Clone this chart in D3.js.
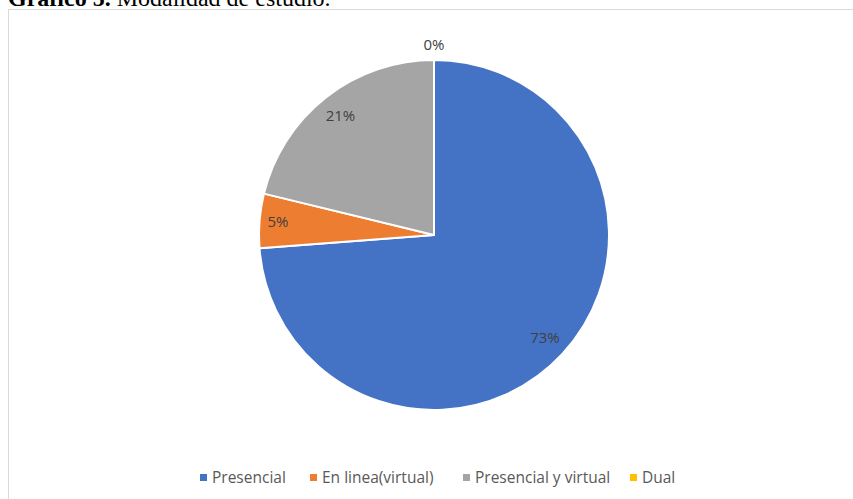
<!DOCTYPE html>
<html>
<head>
<meta charset="utf-8">
<script src="https://cdn.jsdelivr.net/npm/d3@7/dist/d3.min.js"></script>
<style>
html,body{margin:0;padding:0;background:#fff;overflow:hidden;}
svg{display:block;}
</style>
</head>
<body>
<svg id="chart" width="853" height="499"></svg>
<script>
const categories = ["Presencial", "En linea(virtual)", "Presencial y virtual", "Dual"];
const values = [73.8, 5.0, 21.2, 0];
const colors = ["#4472C4", "#ED7D31", "#A5A5A5", "#FFC000"];
const titleBold = "Gráfico 5.";
const titleRest = " Modalidad de estudio.";

const svg = d3.select("#chart");

// title (cut at top, as in the reference)
const title = svg.append("text")
  .attr("x", 8).attr("y", 6)
  .attr("font-family", "'Liberation Serif', 'Times New Roman', serif")
  .attr("font-size", 24).attr("fill", "#000");
title.append("tspan").attr("font-weight", "bold").text(titleBold);
title.append("tspan").text(titleRest);

// chart frame
svg.append("rect")
  .attr("x", 8.5).attr("y", 9.5)
  .attr("width", 900).attr("height", 600)
  .attr("fill", "#fff").attr("stroke", "#d9d9d9").attr("stroke-width", 1);

const cx = 434, cy = 235, r = 175;
const g = svg.append("g").attr("transform", `translate(${cx},${cy})`);

const pie = d3.pie().sort(null).value(d => d);
const arcs = pie(values);
const arc = d3.arc().innerRadius(0).outerRadius(r);

g.selectAll("path.slice").data(arcs).enter().append("path")
  .attr("class", "slice")
  .attr("d", arc)
  .attr("fill", (d, i) => colors[i])
  .attr("stroke", "#fff").attr("stroke-width", 2).attr("stroke-linejoin", "round");

const total = d3.sum(values);
g.selectAll("text.lbl").data(arcs).enter().append("text")
  .attr("class", "lbl")
  .attr("transform", d => {
    const a = (d.startAngle + d.endAngle) / 2;
    const frac = d.value / total;
    const rr = frac === 0 ? r + 15 : (frac < 0.1 ? r * 0.895 : r * 0.865);
    return `translate(${Math.sin(a) * rr},${-Math.cos(a) * rr})`;
  })
  .attr("text-anchor", "middle").attr("dy", "0.35em")
  .attr("font-family", "'Open Sans', sans-serif")
  .attr("font-size", 15).attr("fill", "#404040")
  .text(d => Math.floor(d.value / total * 100 + 1e-9) + "%");

// legend
const legendX = [200, 310, 463, 630];
const lg = svg.append("g");
categories.forEach((c, i) => {
  const item = lg.append("g").attr("transform", `translate(${legendX[i]},478)`);
  item.append("rect").attr("x", 0).attr("y", -4).attr("width", 7).attr("height", 7).attr("fill", colors[i]);
  item.append("text").attr("x", 12).attr("y", 0).attr("dy", "0.35em")
    .attr("font-family", "'Open Sans', sans-serif")
    .attr("font-size", 15.5).attr("fill", "#595959").text(c);
});
</script>
</body>
</html>
